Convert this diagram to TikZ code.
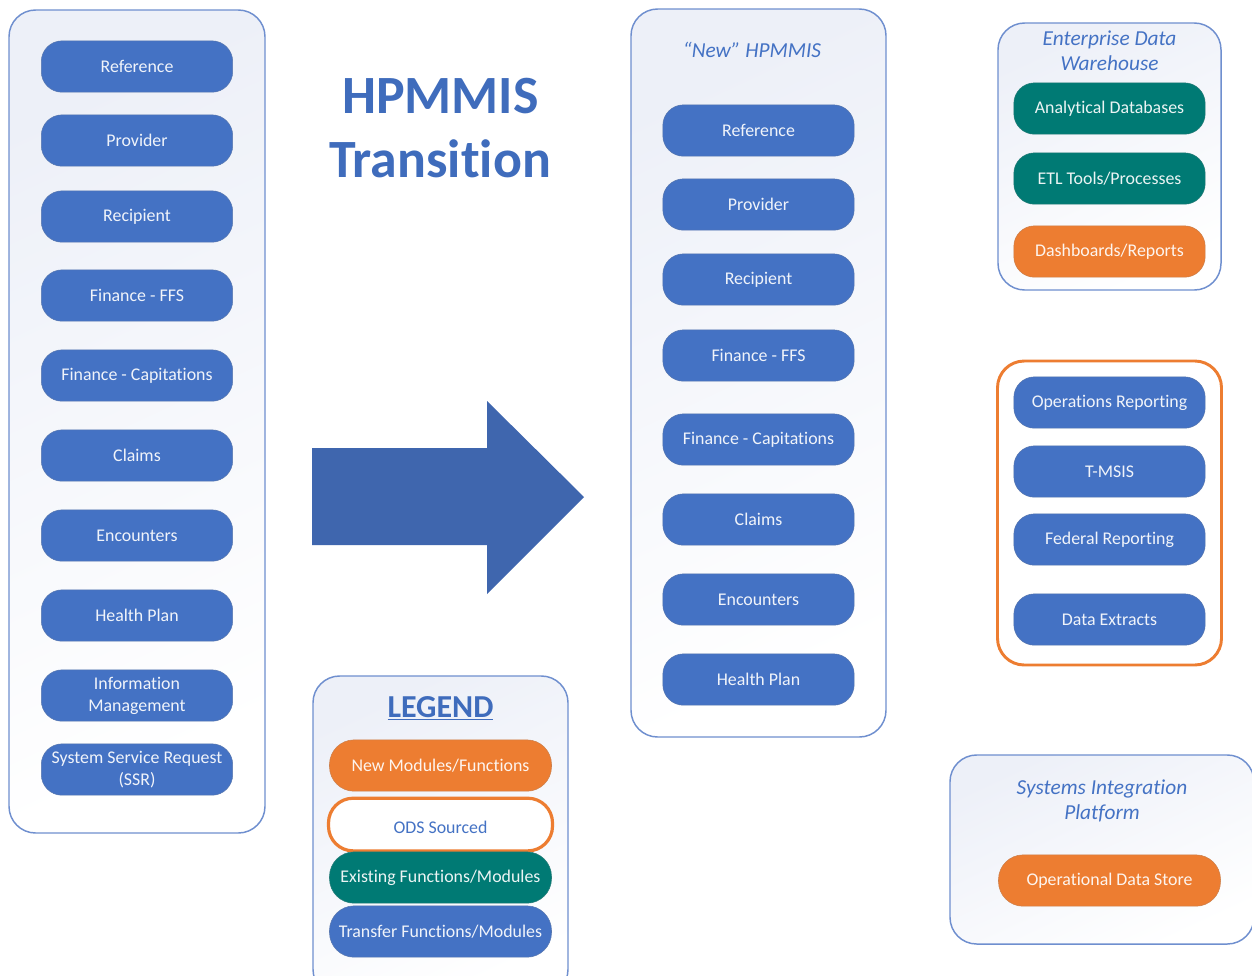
\documentclass[tikz,border=0pt]{standalone}
\usepackage{fontspec}
\setmainfont[Ligatures=NoCommon]{Carlito}
\definecolor{hpblue}{HTML}{4472C4}
\definecolor{hporange}{HTML}{ED7D31}
\definecolor{hpteal}{HTML}{007A74}
\definecolor{hpedge}{HTML}{6F8FCF}
\definecolor{hppale}{HTML}{EDF0F8}
\definecolor{hptitle}{HTML}{3F6CBC}
\definecolor{hparrow}{HTML}{3F66AE}
\tikzset{
  panel/.style={draw=hpedge,line width=1.1pt,rounded corners=20pt,inner sep=0pt,
    shade,shading=axis,top color=hppale,bottom color=white,shading angle=25},
  orangepanel/.style={draw=hporange,line width=2.2pt,rounded corners=20pt,fill=white,inner sep=0pt},
  pill/.style={rounded corners=15.5pt,minimum height=38.5pt,inner sep=0pt,align=center,
    text=white,font=\fontsize{13.4pt}{16.4pt}\selectfont,draw=#1!70!gray,line width=.4pt,fill=#1,text opacity=.92,yshift=-.4pt},
  wide/.style={minimum width=143.5pt},
  legendw/.style={minimum width=166.5pt,rounded corners=18.5pt},
  paneltitle/.style={text=hpblue,font=\fontsize{16pt}{19pt}\selectfont\itshape,align=center,inner sep=0pt},
  bigtitle/.style={text=hptitle,font=\fontsize{40.4pt}{44pt}\selectfont\bfseries,inner sep=0pt},
}
\begin{document}
\begin{tikzpicture}[x=0.75pt,y=-0.75pt]
\useasboundingbox (0,0) rectangle (1252,975);
\clip (0,0) rectangle (1252,975);
\fill[white] (0,0) rectangle (1252,975);
% panels
\node[panel,minimum width=192pt,minimum height=617.25pt] (oldpanel) at (137,421.5) {};
\node[panel,minimum width=191.25pt,minimum height=546pt] (newpanel) at (758.5,373) {};
\node[panel,minimum width=167.25pt,minimum height=200.25pt] (edwpanel) at (1109.5,156.5) {};
\node[orangepanel,minimum width=168pt,minimum height=228pt] (opspanel) at (1109.5,513) {};
\node[panel,minimum width=228pt,minimum height=141.75pt] (sippanel) at (1102,849.5) {};
\node[panel,minimum width=191.25pt,minimum height=240pt] (legendpanel) at (440.5,836) {};
% old pills
\foreach \n/\y/\t in {a/66/Reference,b/140/Provider,c/216/Recipient,d/295/Finance - FFS,e/375/Finance - Capitations,f/455/Claims,g/535/Encounters,h/615/Health Plan}
  \node[pill=hpblue,wide] (old\n) at (137,\y) {\t};
\node[pill=hpblue,wide] (oldi) at (137,695) {Information\\Management};
\node[pill=hpblue,wide] (oldj) at (137,769) {System Service Request\\(SSR)};
% new pills
\node[paneltitle] (newtitle) at (752,50) {“New” HPMMIS};
\foreach \n/\y/\t in {a/130/Reference,b/204/Provider,c/279/Recipient,d/355/Finance - FFS,e/439/Finance - Capitations,f/519/Claims,g/599/Encounters,h/679/Health Plan}
  \node[pill=hpblue,wide] (new\n) at (758.5,\y) {\t};
% EDW
\node[paneltitle] (edwtitle) at (1109.5,51) {Enterprise Data\\Warehouse};
\node[pill=hpteal,wide] (edwa) at (1109.5,108) {Analytical Databases};
\node[pill=hpteal,wide] (edwb) at (1109.5,178) {ETL Tools/Processes};
\node[pill=hporange,wide] (edwc) at (1109.5,251) {Dashboards/Reports};
% ops
\node[pill=hpblue,wide] (opsa) at (1109.5,402) {Operations Reporting};
\node[pill=hpblue,wide] (opsb) at (1109.5,471) {T-MSIS};
\node[pill=hpblue,wide] (opsc) at (1109.5,539) {Federal Reporting};
\node[pill=hpblue,wide] (opsd) at (1109.5,619) {Data Extracts};
% SIP
\node[paneltitle] (siptitle) at (1102,801) {Systems Integration\\Platform};
\node[pill=hporange,minimum width=166.5pt,rounded corners=18.5pt] (sipa) at (1109.5,880) {Operational Data Store};
% legend
\node[text=hptitle,font=\fontsize{24pt}{28pt}\selectfont\bfseries,inner sep=0pt] (legendtitle) at (440.5,708) {\underline{LEGEND}};
\node[pill=hporange,legendw] (lega) at (440.5,765) {New Modules/Functions};
\node[pill=hporange,legendw,minimum width=168pt,minimum height=39.5pt,fill=white,draw=hporange,line width=2.4pt] (legb) at (440.5,824) {};
\node[text=hpblue,font=\fontsize{13.4pt}{16pt}\selectfont,inner sep=0pt] (legbt) at (440.5,827) {ODS Sourced};
\node[pill=hpteal,legendw] (legc) at (440.5,877) {Existing Functions/Modules};
\node[pill=hpblue,legendw] (legd) at (440.5,931) {Transfer Functions/Modules};
% title
\node[bigtitle] (t1) at (440.5,96) {HPMMIS};
\node[bigtitle] (t2) at (440,159) {Transition};
% arrow
\fill[hparrow] (312,448) -- (487,448) -- (487,401) -- (584,497) -- (487,594) -- (487,545) -- (312,545) -- cycle;
\end{tikzpicture}
\end{document}
